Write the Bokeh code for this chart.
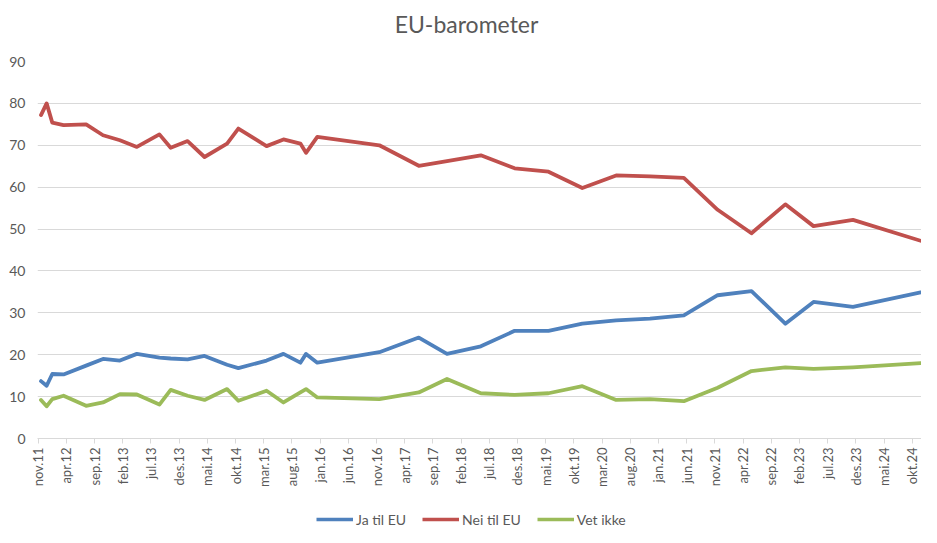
import math
from bokeh.plotting import figure
from bokeh.models import Range1d, FixedTicker, Legend, LegendItem, Label
from bokeh.layouts import column
from bokeh.embed import file_html
from bokeh.resources import INLINE

# Survey months, counted from nov.11 (= 0)
month_index = [0, 1, 2, 4, 8, 11, 14, 17, 21, 23, 26, 29, 33, 35, 40, 43, 46, 47, 49,
               60, 67, 72, 78, 84, 90, 96, 102, 108, 114, 120, 126, 132, 137, 144, 156]
ja_til_eu = [13.7, 12.6, 15.4, 15.3, 17.4, 19.0, 18.6, 20.2, 19.3, 19.1, 18.9, 19.7, 17.6, 16.8,
             18.6, 20.2, 18.1, 20.2, 18.1, 20.6, 24.1, 20.2, 22.0, 25.7, 25.7, 27.4, 28.2, 28.6,
             29.4, 34.2, 35.2, 27.4, 32.6, 31.4, 34.9]
nei_til_eu = [77.2, 80.0, 75.4, 74.8, 75.0, 72.4, 71.2, 69.6, 72.6, 69.4, 71.0, 67.2, 70.4, 74.0,
              69.8, 71.4, 70.4, 68.2, 72.0, 70.0, 65.1, 66.2, 67.6, 64.5, 63.7, 59.8, 62.8, 62.6,
              62.2, 54.6, 49.0, 55.9, 50.7, 52.2, 47.2]
vet_ikke = [9.2, 7.7, 9.4, 10.2, 7.8, 8.6, 10.6, 10.5, 8.1, 11.6, 10.2, 9.2, 11.8, 9.0,
            11.4, 8.6, 11.0, 11.8, 9.8, 9.4, 11.0, 14.2, 10.8, 10.4, 10.8, 12.5, 9.2, 9.4,
            8.9, 12.1, 16.1, 17.0, 16.6, 17.0, 18.0]

tick_labels = ["nov.11", "apr.12", "sep.12", "feb.13", "jul.13", "des.13", "mai.14", "okt.14",
               "mar.15", "aug.15", "jan.16", "jun.16", "nov.16", "apr.17", "sep.17", "feb.18",
               "jul.18", "des.18", "mai.19", "okt.19", "mar.20", "aug.20", "jan.21", "jun.21",
               "nov.21", "apr.22", "sep.22", "feb.23", "jul.23", "des.23", "mai.24", "okt.24"]
y_ticks = [0, 10, 20, 30, 40, 50, 60, 70, 80, 90]

title_text = "EU-barometer"
series_names = ["Ja til EU", "Nei til EU", "Vet ikke"]
colors = ["#4F81BD", "#C0504D", "#9BBB59"]

FONT = "Lato"
TXT = "#595959"
W = 921
LEFT = 37

# each point sits in the middle of its month slot
xs = [m + 0.5 for m in month_index]
tick_pos = [i * 5 for i in range(len(tick_labels))]


def strip(height):
    f = figure(width=W, height=height, output_backend="svg", toolbar_location=None,
               x_range=Range1d(LEFT, W), y_range=Range1d(0, height),
               x_axis_location=None, y_axis_location=None,
               min_border=0, min_border_left=LEFT, min_border_right=0,
               min_border_top=0, min_border_bottom=0)
    f.grid.visible = False
    f.outline_line_color = None
    f.background_fill_color = "white"
    f.border_fill_color = "white"
    return f


# ---- title strip ----
t = strip(53)
t.add_layout(Label(x=466, y=30, text=title_text, text_align="center", text_baseline="middle",
                   text_font=FONT, text_font_size="23px", text_color=TXT))

# ---- main chart ----
p = figure(width=W, height=450, output_backend="svg", toolbar_location=None,
           x_range=Range1d(-0.12, 156.65), y_range=Range1d(0, 90),
           min_border_left=LEFT, min_border_right=0, min_border_top=8, min_border_bottom=65)

p.outline_line_color = None
p.background_fill_color = "white"
p.border_fill_color = "white"

p.xgrid.grid_line_color = None
p.ygrid.grid_line_color = "#D9D9D9"
p.ygrid.grid_line_width = 1

p.yaxis.ticker = FixedTicker(ticks=y_ticks)
p.yaxis.axis_line_color = None
p.yaxis.major_tick_line_color = None
p.yaxis.major_tick_out = 0
p.yaxis.major_tick_in = 0
p.yaxis.minor_tick_line_color = None
p.yaxis.major_label_text_font = FONT
p.yaxis.major_label_text_font_size = "14px"
p.yaxis.major_label_text_color = TXT
p.yaxis.major_label_standoff = 12

p.xaxis.ticker = FixedTicker(ticks=tick_pos)
p.xaxis.major_label_overrides = {tp: lab for tp, lab in zip(tick_pos, tick_labels)}
p.xaxis.major_label_orientation = math.pi / 2
p.xaxis.axis_line_color = "#D9D9D9"
p.xaxis.major_tick_line_color = "#D9D9D9"
p.xaxis.major_tick_in = 0
p.xaxis.major_tick_out = 5
p.xaxis.minor_tick_line_color = None
p.xaxis.major_label_text_font = FONT
p.xaxis.major_label_text_font_size = "13px"
p.xaxis.major_label_text_color = TXT
p.xaxis.major_label_standoff = 4

for vals, col in zip([ja_til_eu, nei_til_eu, vet_ikke], colors):
    p.line(xs, vals, line_color=col, line_width=3.8, line_join="round", line_cap="round")

# ---- legend strip ----
lg = strip(32)
items = []
for name, col in zip(series_names, colors):
    r = lg.line(x=[-100, -90], y=[-100, -90], line_color=col, line_width=3.5)
    items.append(LegendItem(label=name, renderers=[r]))
legend = Legend(items=items, orientation="horizontal", location=(318 - LEFT - 2, 6))
legend.border_line_color = None
legend.background_fill_alpha = 0
legend.label_text_font = FONT
legend.label_text_font_size = "14px"
legend.label_text_color = TXT
legend.glyph_width = 37
legend.glyph_height = 20
legend.spacing = 16
legend.label_standoff = 3
legend.padding = 5
legend.margin = 0
lg.add_layout(legend, "center")

layout = column(t, p, lg, spacing=0)
open("out.html", "w").write(file_html(layout, INLINE))
